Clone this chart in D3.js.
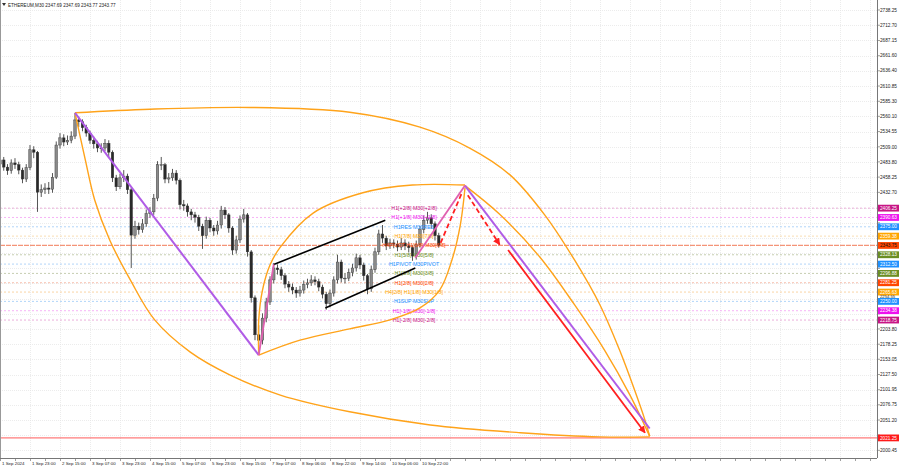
<!DOCTYPE html>
<html><head><meta charset="utf-8">
<script src="https://cdn.jsdelivr.net/npm/d3@7"></script>
<style>body{margin:0;background:#fff;} svg{display:block;font-family:"Liberation Sans",Arial,sans-serif;}</style>
</head><body><svg id="c" width="900" height="468"></svg>
<script>
// ---------- DATA ----------
const header = "ETHEREUM,M30  2347.69 2347.69 2343.77 2343.77";
const barStep = 4; // M30 bars per drawn candle
const firstOpen = 2480;
const closes = [2487,2475,2469,2482,2479,2470,2455,2474,2504,2500,
2433,2437,2440,2438,2458,2512,2524,2517,2520,2527,
2554,2551,2541,2532,2520,2514,2507,2507,2515,2500,
2457,2442,2457,2460,2437,2361,2376,2370,2380,2397,
2400,2423,2479,2479,2455,2457,2465,2453,2412,2410,
2400,2395,2391,2376,2360,2386,2373,2368,2378,2403,
2395,2373,2336,2353,2388,2395,2333,2256,2194,2185,
2222,2249,2286,2306,2303,2293,2279,2274,2269,2264,
2269,2278,2281,2286,2283,2274,2262,2246,2264,2286,
2316,2289,2289,2298,2306,2323,2311,2293,2271,2303,
2333,2363,2356,2343,2348,2346,2341,2348,2343,2340,
2326,2345,2370,2386,2390,2380,2360,2344];
const highs = [2494,2492,2480,2488,2490,2484,2474,2480,2512,2510,
2502,2446,2448,2450,2465,2518,2532,2530,2528,2535,
2566,2560,2555,2546,2536,2526,2519,2515,2522,2520,
2503,2462,2464,2470,2464,2440,2385,2382,2388,2404,
2408,2430,2485,2492,2482,2465,2472,2470,2456,2420,
2414,2405,2400,2395,2380,2392,2390,2378,2385,2410,
2408,2398,2376,2360,2394,2405,2398,2336,2260,2210,
2230,2256,2292,2314,2312,2308,2297,2284,2280,2274,
2276,2285,2288,2294,2292,2288,2278,2266,2270,2292,
2328,2320,2297,2305,2313,2330,2328,2315,2296,2310,
2340,2370,2378,2360,2355,2354,2352,2356,2354,2350,
2344,2352,2376,2394,2400,2396,2384,2365];
const lows = [2474,2469,2462,2464,2472,2463,2448,2450,2470,2490,
2400,2425,2430,2430,2432,2455,2506,2510,2512,2515,
2522,2542,2535,2526,2514,2506,2500,2499,2502,2490,
2450,2435,2438,2450,2430,2306,2355,2362,2365,2375,
2390,2395,2418,2470,2448,2448,2452,2446,2404,2402,
2392,2386,2382,2368,2338,2355,2366,2360,2362,2372,
2388,2365,2328,2330,2348,2382,2325,2248,2185,2160,
2178,2215,2244,2280,2295,2286,2272,2266,2262,2256,
2258,2263,2272,2276,2277,2267,2255,2236,2240,2258,
2280,2282,2280,2284,2292,2300,2304,2285,2262,2266,
2298,2328,2348,2336,2338,2339,2334,2336,2336,2332,
2318,2320,2340,2364,2380,2372,2352,2340];

const timeLabels = ["1 Sep 2024","1 Sep 23:00","2 Sep 15:00","3 Sep 07:00","3 Sep 23:00","4 Sep 15:00","5 Sep 07:00","5 Sep 23:00","6 Sep 15:00","7 Sep 07:00","8 Sep 06:00","8 Sep 22:00","9 Sep 14:00","10 Sep 06:00","10 Sep 22:00"];
const labelEvery = 32; // bars between time labels

const priceTicks = [2738.25,2712.70,2687.15,2661.60,2636.40,2610.85,2585.30,2560.10,2534.55,2509.00,2483.80,2458.25,2432.70,2407.15,2381.60,2356.40,2330.85,2305.30,2280.10,2254.55,2229.00,2203.80,2178.25,2153.05,2127.50,2101.95,2076.75,2051.20,2026.00,2000.45];
// tick labels covered by coloured level tags in the reference
const hiddenTickLabels = [2407.15,2381.60,2356.40,2330.85,2305.30,2280.10,2229.00,2026.00];

const levelPrices = [2406.25,2390.625,2375.00,2359.375,2343.75,2328.125,2312.50,2296.875,2281.25,2265.625,2250.00,2234.375,2218.75];
const levelKeys   = ["+2/8","+1/8","RES","7/8","6/8","5/8","PIVOT","3/8","2/8","1/8","SUP","-1/8","-2/8"];
const levelTexts  = ["H1[+2/8] M30[+2/8]","H1[+1/8] M30[+1/8]","H1RES M30RES","H1[7/8] M30[7/8]","H4PIVOT H1[6/8] M30[6/8]","H1[5/8] M30[5/8]","H1PIVOT M30PIVOT","H1[3/8] M30[3/8]","H1[2/8] M30[2/8]","H4[2/8] H1[1/8] M30[1/8]","H1SUP M30SUP","H1[-1/8] M30[-1/8]","H1[-2/8] M30[-2/8]"];
const targetPrice = 2021.25;

// overlay points: [bar, price]
const purpleDown1 = [[80,2566],[276,2160]];
const purpleDown2 = [[496,2444],[693,2037]];
const pinkUp1 = [[276,2160],[292,2312]];
const pinkUp2 = [[443,2323],[496,2444]];
const channelUpper = [[292,2312],[411,2386]];
const channelLower = [[347,2239],[443,2306]];
const redDashUp = [[470,2348],[493,2433]];
const redDashDown = [[499,2428],[533,2345]];
const redSolid = [[542,2336],[688,2030]];
const arcOuterTop = [[80,2566],[160,2572],[267,2575],[373,2567],[448,2542],[501,2507],[544,2462],[581,2395],[613,2319],[640,2244],[661,2168],[677,2101],[688,2051],[693,2024]];
const arcOuterBottom = [[80,2566],[91,2487],[101,2420],[117,2353],[139,2286],[165,2219],[203,2165],[245,2127],[299,2093],[373,2065],[459,2043],[555,2030],[640,2023],[693,2023]];
const arcInnerUpper = [[276,2160],[276,2219],[280,2269],[288,2311],[299,2341],[334,2398],[387,2432],[440,2445],[496,2445]];
const arcInnerLower = [[276,2160],[320,2185],[373,2204],[416,2219],[448,2239],[469,2269],[482,2319],[491,2378],[496,2440]];
const arcRight = [[496,2444],[533,2396],[576,2324],[613,2244],[645,2168],[672,2093],[693,2024]];

// ---------- STYLES ----------
const levelStyle = {
 "+2/8":{c:"#c71585",l:"#e9a6d6"}, "+1/8":{c:"#ee11ee",l:"#f5aaf5"}, "RES":{c:"#1e90ff",l:"#a9d0f7"},
 "7/8":{c:"#ffa500",l:"#f8d9aa"}, "6/8":{c:"#ff4500",l:"#f49478"}, "5/8":{c:"#6b8e23",l:"#c0c8a8"},
 "PIVOT":{c:"#1e90ff",l:"#a9d0f7"}, "3/8":{c:"#6b8e23",l:"#c0c8a8"}, "2/8":{c:"#ff4500",l:"#f7b8a4"},
 "1/8":{c:"#ffa500",l:"#f8d09a"}, "SUP":{c:"#1e90ff",l:"#a9d0f7"}, "-1/8":{c:"#ee11ee",l:"#f5aaf5"},
 "-2/8":{c:"#c71585",l:"#e9a6d6"}
};
const W = 877, H = 458;

const svg = d3.select("#c");
svg.append("rect").attr("width",900).attr("height",468).attr("fill","#fff");
const defs = svg.append("defs");
defs.append("marker").attr("id","arr").attr("viewBox","0 0 10 10").attr("refX",9).attr("refY",5)
  .attr("markerWidth",4).attr("markerHeight",4).attr("orient","auto")
  .append("path").attr("d","M0,0L10,5L0,10z").attr("fill","#ff2020");

const x = d3.scaleLinear().domain([0, 935.5]).range([0, W]);
const y = d3.scaleLinear().domain([1987.6, 2755.0]).range([H, 0]);

// grid
const g = svg.append("g");
g.selectAll(".hg").data(priceTicks).enter().append("line")
 .attr("x1",0).attr("x2",W).attr("y1",d=>Math.round(y(d))+0.5).attr("y2",d=>Math.round(y(d))+0.5)
 .attr("stroke","#e4e4e4").attr("stroke-width",0.7).attr("stroke-dasharray","1,1");
const vbars = d3.range(0, 936, labelEvery);
g.selectAll(".vg").data(vbars).enter().append("line")
 .attr("y1",0).attr("y2",H).attr("x1",d=>Math.round(x(d))+0.5).attr("x2",d=>Math.round(x(d))+0.5)
 .attr("stroke","#e4e4e4").attr("stroke-width",0.7).attr("stroke-dasharray","1,1");

// level lines
levelPrices.forEach((p,i)=>{
  const k = levelKeys[i];
  g.append("line").attr("x1",0).attr("x2",W).attr("y1",y(p)).attr("y2",y(p))
   .attr("stroke",levelStyle[k].l).attr("stroke-width",k==="6/8"?1.2:0.9)
   .attr("stroke-dasharray",k==="6/8"?"5,1":"2,2");
});
// target line
g.append("line").attr("x1",0).attr("x2",W).attr("y1",y(targetPrice)).attr("y2",y(targetPrice))
 .attr("stroke","#ff3030").attr("stroke-width",0.8);

// candles
const cg = svg.append("g");
closes.forEach((c,i)=>{
  const o = i===0 ? firstOpen : closes[i-1];
  const cx = x(i*barStep);
  cg.append("line").attr("x1",cx).attr("x2",cx).attr("y1",y(highs[i])).attr("y2",y(lows[i]))
    .attr("stroke","#555").attr("stroke-width",1);
  const top = y(Math.max(o,c)), bot = y(Math.min(o,c));
  cg.append("rect").attr("x",cx-1.3).attr("width",2.6).attr("y",top).attr("height",Math.max(0.8,bot-top))
    .attr("fill", c>=o ? "#8a8a8a" : "#2a2a2a").attr("stroke","#333").attr("stroke-width",0.4);
});

// center level labels
levelPrices.forEach((p,i)=>{
  svg.append("text").attr("x",414).attr("y",y(p)+2).attr("text-anchor","middle")
   .attr("font-size",5.3).attr("fill",levelStyle[levelKeys[i]].c).text(levelTexts[i]);
});

// overlays
const line = d3.line().x(d=>x(d[0])).y(d=>y(d[1]));
const curve = d3.line().x(d=>x(d[0])).y(d=>y(d[1])).curve(d3.curveCatmullRom.alpha(0.5));
const og = svg.append("g").attr("fill","none");
[arcOuterTop, arcOuterBottom, arcInnerUpper, arcInnerLower, arcRight].forEach(a=>{
  og.append("path").attr("d",curve(a)).attr("stroke","#ffa31a").attr("stroke-width",1.4);
});
og.append("path").attr("d",line(channelUpper)).attr("stroke","#000").attr("stroke-width",1.6);
og.append("path").attr("d",line(channelLower)).attr("stroke","#000").attr("stroke-width",1.6);
og.append("path").attr("d",line(purpleDown1)).attr("stroke","#b05ce6").attr("stroke-width",2);
og.append("path").attr("d",line(purpleDown2)).attr("stroke","#b05ce6").attr("stroke-width",2);
og.append("path").attr("d",line(pinkUp1)).attr("stroke","#e060b0").attr("stroke-width",1.8);
og.append("path").attr("d",line(pinkUp2)).attr("stroke","#e060b0").attr("stroke-width",1.8);
og.append("path").attr("d",line(redDashUp)).attr("stroke","#ff2020").attr("stroke-width",1.8).attr("stroke-dasharray","5,3");
og.append("path").attr("d",line(redDashDown)).attr("stroke","#ff2020").attr("stroke-width",1.8).attr("stroke-dasharray","5,3").attr("marker-end","url(#arr)");
og.append("path").attr("d",line(redSolid)).attr("stroke","#ff2020").attr("stroke-width",1.8).attr("marker-end","url(#arr)");

// axes
svg.append("line").attr("x1",W+0.5).attr("x2",W+0.5).attr("y1",0).attr("y2",H).attr("stroke","#777").attr("stroke-width",1);
svg.append("line").attr("x1",0).attr("x2",W).attr("y1",H+0.5).attr("y2",H+0.5).attr("stroke","#777").attr("stroke-width",1);
svg.append("line").attr("x1",0.5).attr("x2",0.5).attr("y1",0).attr("y2",H).attr("stroke","#999").attr("stroke-width",1);
// bottom ticks
svg.selectAll(".bt").data(d3.range(0,936,labelEvery/2)).enter().append("line")
 .attr("x1",d=>Math.round(x(d))+0.5).attr("x2",d=>Math.round(x(d))+0.5).attr("y1",H).attr("y2",H+3)
 .attr("stroke","#777").attr("stroke-width",0.7);
svg.selectAll(".tl").data(timeLabels).enter().append("text")
 .attr("x",(d,i)=>x(i*labelEvery)+2).attr("y",H+7).attr("font-size",4.4).attr("fill","#222").text(d=>d);
// right ticks
svg.selectAll(".rt").data(priceTicks).enter().append("line")
 .attr("x1",W).attr("x2",W+3).attr("y1",d=>y(d)).attr("y2",d=>y(d)).attr("stroke","#777").attr("stroke-width",0.7);

const tagHalf = 3.4;
// colored level labels
function tag(p, bg, fg){
  const yy = y(p);
  svg.append("rect").attr("x",W+1).attr("y",yy-tagHalf).attr("width",21).attr("height",tagHalf*2).attr("fill",bg);
  svg.append("text").attr("x",W+3).attr("y",yy+1.7).attr("font-size",4.7).attr("fill",fg).text(p.toFixed(2));
}
levelPrices.forEach((p,i)=>{
  const k = levelKeys[i];
  tag(p, levelStyle[k].c, k==="6/8" ? "#111" : "#fff");
});
tag(targetPrice, "#ff1a1a", "#fff");

// tick labels (visible ones), drawn on top; the one squeezed between tags sits just above its neighbour tag
priceTicks.filter(t=>!hiddenTickLabels.includes(t)).forEach(t=>{
  const ty = y(t);
  const below = levelPrices.filter(p=>y(p)>ty && y(p)-ty<5);
  const base = below.length ? y(below[0]) - tagHalf - 0.2 : ty + 1.7;
  svg.append("text").attr("x",880).attr("y",base).attr("font-size",below.length?4.2:4.7).attr("fill","#222").text(t.toFixed(2));
});

// header
svg.append("path").attr("d","M2,3L6,3L4,6z").attr("fill","#333");
svg.append("text").attr("x",8).attr("y",6.5).attr("font-size",4.6).attr("fill","#222").text(header);
</script>
</body></html>
